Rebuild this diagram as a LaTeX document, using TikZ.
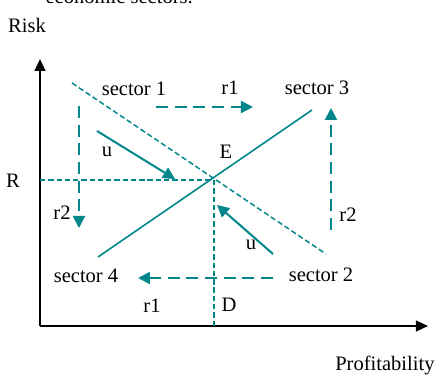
\documentclass[tikz,border=0pt]{standalone}
\usepackage{fontspec}
\setmainfont{Liberation Serif}
\usetikzlibrary{arrows.meta}
\definecolor{sectorteal}{RGB}{0,134,139}

\begin{document}
\begin{tikzpicture}[x=0.75pt,y=-0.75pt,
    lbl/.style={inner sep=0pt,font=\fontsize{15.4}{18}\selectfont},
    axis/.style={line width=1.6pt,-{Triangle[length=9pt,width=8pt]}},
    fine/.style={sectorteal,line width=1.1pt,dash pattern=on 4pt off 2.2pt},
    move/.style={sectorteal,line width=1.5pt,dash pattern=on 9pt off 5pt,-{Triangle[length=9pt,width=9pt]}},
    ustep/.style={sectorteal,line width=1.5pt,-{Triangle[length=9pt,width=9pt]}}]
    \clip (0,0) rectangle (437,378);
    % clipped caption line
    \node[lbl,anchor=base east] (cap) at (193,4) {economic sectors.};
        % axes
        \coordinate (O) at (40,326);
        \coordinate (ytop) at (40,59);
        \coordinate (xend) at (428,326);
        \draw[axis] (O) -- (ytop);
        \draw[axis] (O) -- (xend);
        \node[lbl] (risk) at (27,25) {Risk};
        \node[lbl,anchor=west] (prof) at (335,365) {Profitability};
        % equilibrium
        \coordinate (E) at (213,180);
        \coordinate (Rl) at (40,180);
        \coordinate (Dl) at (214,326);
        \node[lbl] (R) at (13,181) {R};
        \node[lbl] (Elbl) at (226,152) {E};
        \node[lbl] (D) at (229,305) {D};
        \draw[fine] (Rl) -- (E);
        \draw[fine] (214,180) -- (Dl);
        % lines through E
        \coordinate (a4) at (98,257);
        \coordinate (a3) at (312,110);
        \coordinate (b1) at (72,83);
        \coordinate (b2) at (326,254);
        \draw[sectorteal,line width=1.2pt] (a4) -- (a3);
        \draw[fine] (b1) -- (b2);
        % sectors
        \node[lbl] (s1) at (134,89) {sector 1};
        \node[lbl] (s3) at (317,88) {sector 3};
        \node[lbl] (s4) at (86,276) {sector 4};
        \node[lbl] (s2) at (321,275) {sector 2};
        % moves r1 and r2
        \coordinate (r1a) at (156,107);
        \coordinate (r1b) at (253,107);
        \draw[move] (r1a) -- (r1b);
        \node[lbl] (r1t) at (230,88) {r1};
        \coordinate (r2a) at (331,230);
        \coordinate (r2b) at (331,108);
        \draw[move] (r2a) -- (r2b);
        \node[lbl] (r2r) at (348,215) {r2};
        \coordinate (r2c) at (79,106);
        \coordinate (r2d) at (79,228);
        \draw[move] (r2c) -- (r2d);
        \node[lbl] (r2l) at (62,213) {r2};
        \coordinate (r1c) at (273,278);
        \coordinate (r1d) at (138,278);
        \draw[move] (r1c) -- (r1d);
        \node[lbl] (r1lbl) at (152,306) {r1};
        % u arrows
        \coordinate (u1) at (97,131);
        \coordinate (u2) at (175,179);
        \draw[ustep] (u1) -- (u2);
        \node[lbl] (ut) at (107,152) {u};
        \coordinate (u3) at (273,254);
        \coordinate (u4) at (217,205);
        \draw[ustep] (u3) -- (u4);
        \node[lbl] (ub) at (251,245) {u};
    \end{tikzpicture}
\end{document}
